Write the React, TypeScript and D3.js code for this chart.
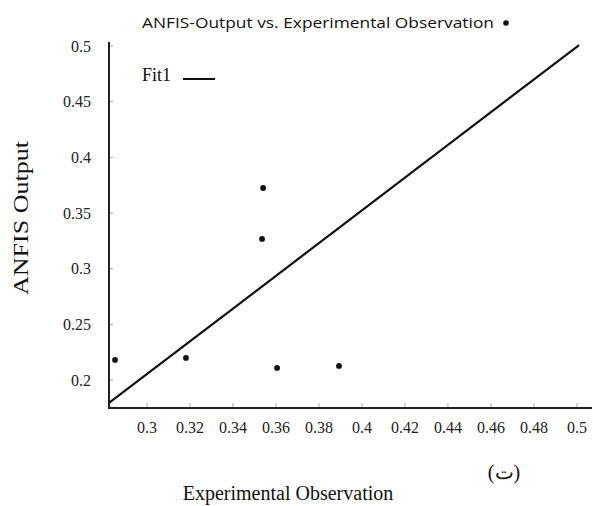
import React from "react";
import * as d3 from "d3";

const xTicks = [0.3, 0.32, 0.34, 0.36, 0.38, 0.4, 0.42, 0.44, 0.46, 0.48, 0.5];
const yTicks = [0.2, 0.25, 0.3, 0.35, 0.4, 0.45, 0.5];
const obsX = [0.2851, 0.3181, 0.3605, 0.3893, 0.354, 0.3535];
const obsY = [0.218, 0.2198, 0.2108, 0.2126, 0.3725, 0.3267];
const fitX = [0.2823, 0.501];
const fitY = [0.1793, 0.501];

const W = 593, H = 506;
const serif = "'Liberation Serif', 'Times New Roman', serif";
const sans = "'Open Sans', 'Liberation Sans', sans-serif";

export default function App() {
  const x = d3.scaleLinear().domain([0.2823, 0.507]).range([109, 592]);
  const y = d3.scaleLinear().domain([0.1748, 0.5037]).range([408, 42]);
  const line = d3.line<number>().x((_, i) => x(fitX[i])).y((_, i) => y(fitY[i]));
  const fmt = (v: number) => String(+v.toFixed(2));

  return (
    <svg width={W} height={H} style={{ position: "absolute", left: 0, top: 0, background: "#fff" }}>
      <rect width={W} height={H} fill="#fff" />
      <text x={142} y={28} fontFamily={sans} fontSize={14.5} fill="#111" textLength={352} lengthAdjust="spacingAndGlyphs">
        ANFIS-Output vs. Experimental Observation
      </text>
      <circle cx={506} cy={23} r={2.8} fill="#111" />

      {/* axes */}
      <line x1={x.range()[0]} x2={x.range()[0]} y1={y.range()[1]} y2={y.range()[0] + 1} stroke="#222" strokeWidth={2} />
      <line x1={x.range()[0]} x2={x.range()[1]} y1={y.range()[0]} y2={y.range()[0]} stroke="#222" strokeWidth={2} />

      {yTicks.map((t) => (
        <g key={"y" + t}>
          <line x1={110} x2={113} y1={y(t)} y2={y(t)} stroke="#aaa" strokeWidth={1} />
          <text x={91} y={y(t)} dy="0.35em" textAnchor="end" fontFamily={serif} fontSize={16} fill="#222">
            {fmt(t)}
          </text>
        </g>
      ))}
      {xTicks.map((t) => (
        <g key={"x" + t}>
          <line x1={x(t)} x2={x(t)} y1={407} y2={403} stroke="#aaa" strokeWidth={1} />
          <text x={x(t)} y={427} dy="0.35em" textAnchor="middle" fontFamily={serif} fontSize={16} fill="#222">
            {fmt(t)}
          </text>
        </g>
      ))}

      <path d={line([0, 1]) || ""} fill="none" stroke="#111" strokeWidth={2.2} />

      {obsX.map((v, i) => (
        <circle key={"p" + i} cx={x(v)} cy={y(obsY[i])} r={2.9} fill="#111" />
      ))}

      {/* legend */}
      <text x={142} y={81} fontFamily={serif} fontSize={18} fill="#111">Fit1</text>
      <line x1={183} x2={215} y1={79} y2={79} stroke="#111" strokeWidth={2} />

      <text transform="translate(28,218) rotate(-90)" textAnchor="middle" fontFamily={serif} fontSize={21} textLength={154} lengthAdjust="spacingAndGlyphs" fill="#111">
        ANFIS Output
      </text>
      <text x={288} y={500} textAnchor="middle" fontFamily={serif} fontSize={20} fill="#111">
        Experimental Observation
      </text>
      <text x={504} y={479} textAnchor="middle" fontFamily={serif} fontSize={20} fill="#111">
        (ت)
      </text>
    </svg>
  );
}
